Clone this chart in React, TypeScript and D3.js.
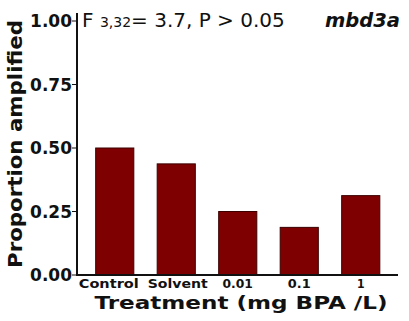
import * as d3 from "d3";

const categories = ["Control", "Solvent", "0.01", "0.1", "1"];
const values = [0.5, 0.4375, 0.25, 0.1875, 0.3125];
const yTicks = [0, 0.25, 0.5, 0.75, 1];

const W = 409;
const H = 321;
const AXIS_X = 77;
const AXIS_Y = 275;
const FONT = "'DejaVu Sans', Verdana, sans-serif";

// reference font runs wider than DejaVu, so labels get stretched a bit
const labelWidth = (c: string) => (c.length > 4 ? 60 : c.length * 7.6);

export default function App() {
  const x = d3.scaleBand().domain(categories).range([84, 391.5]).paddingInner(0.38).paddingOuter(0.19);
  const y = d3.scaleLinear().domain([0, 1]).range([AXIS_Y, 21]);

  return (
    <svg
      width={W}
      height={H}
      style={{ position: "absolute", left: 0, top: 0, background: "#fff" }}
      fontFamily={FONT}
    >
      {/* bars */}
      {categories.map((c, i) => (
        <rect
          key={c}
          x={x(c)}
          y={y(values[i])}
          width={x.bandwidth()}
          height={y(0) - y(values[i])}
          fill="#7f0000"
          stroke="#3a0000"
          strokeWidth={1}
        />
      ))}

      {/* axes */}
      <line x1={AXIS_X} x2={AXIS_X} y1={13} y2={AXIS_Y + 1} stroke="#111" strokeWidth={2} />
      <line x1={AXIS_X - 1} x2={398} y1={AXIS_Y} y2={AXIS_Y} stroke="#111" strokeWidth={2} />

      {yTicks.map((t) => (
        <g key={t}>
          <line x1={AXIS_X - 5} x2={AXIS_X} y1={y(t)} y2={y(t)} stroke="#111" strokeWidth={1} />
          <text
            x={AXIS_X - 5}
            y={y(t)}
            dy="0.36em"
            textAnchor="end"
            fontSize={17}
            fontWeight="bold"
            fill="#111"
          >
            {d3.format(".2f")(t)}
          </text>
        </g>
      ))}

      {categories.map((c, i) => (
        <text
          key={c}
          x={(x(c) ?? 0) + x.bandwidth() / 2 + (i === 0 ? -6 : i === 1 ? 1.5 : 0)}
          y={288}
          textAnchor="middle"
          fontSize={12}
          fontWeight="bold"
          fill="#111"
          textLength={labelWidth(c)}
          lengthAdjust="spacingAndGlyphs"
        >
          {c}
        </text>
      ))}

      {/* axis titles */}
      <text
        x={241}
        y={309}
        textAnchor="middle"
        fontSize={18.5}
        fontWeight="bold"
        fill="#111"
        textLength={293}
        lengthAdjust="spacingAndGlyphs"
      >
        Treatment (mg BPA /L)
      </text>
      <text
        transform={`translate(22, 144) rotate(-90)`}
        textAnchor="middle"
        fontSize={19}
        fontWeight="bold"
        fill="#111"
        textLength={248}
        lengthAdjust="spacingAndGlyphs"
      >
        Proportion amplified
      </text>

      {/* annotation */}
      <text x={82} y={27} fontSize={20} fill="#111">
        F <tspan fontSize={14}>3,32</tspan>= 3.7, P &gt; 0.05
      </text>
      <text x={400} y={27} textAnchor="end" fontSize={19.5} fontWeight="bold" fontStyle="italic" fill="#111">
        mbd3a
      </text>
    </svg>
  );
}
